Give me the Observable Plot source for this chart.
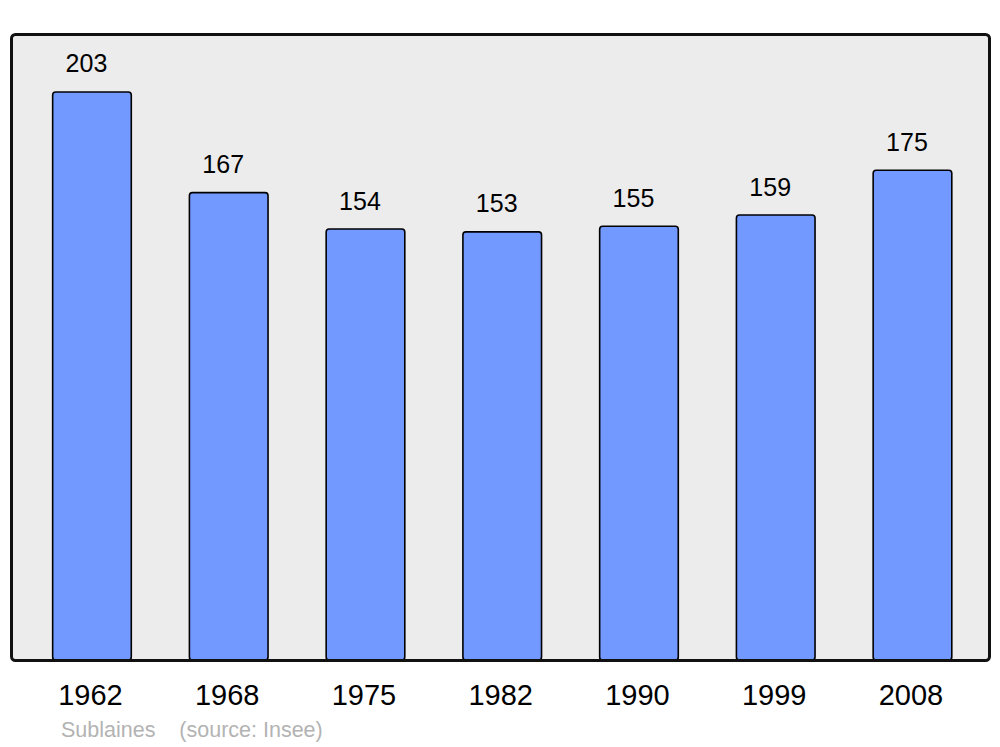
<!DOCTYPE html>
<html>
<head>
<meta charset="utf-8">
<script src="https://cdn.jsdelivr.net/npm/d3@7"></script>
<script src="https://cdn.jsdelivr.net/npm/@observablehq/plot@0.6"></script>
<style>
  html, body { margin: 0; padding: 0; background: #fff; }
  #wrap { position: relative; width: 1000px; height: 747px; font-family: "Liberation Sans", Arial, sans-serif; }
  #caption { position: absolute; left: 61px; top: 718px; font-size: 21.5px; color: #b3b3b3; white-space: pre; }
</style>
</head>
<body>
<div id="wrap">
  <div id="chart"></div>
  <div id="caption"></div>
</div>
<script>
const years = ["1962", "1968", "1975", "1982", "1990", "1999", "2008"];
const population = [203, 167, 154, 153, 155, 159, 175];
const commune = "Sublaines";
const source = "(source: Insee)";

const data = years.map((y, i) => ({year: y, value: population[i]}));

const chart = Plot.plot({
  width: 1000,
  height: 747,
  marginTop: 34,
  marginBottom: 87,
  marginLeft: 11,
  marginRight: 11,
  style: {fontFamily: "Liberation Sans, Arial, sans-serif", background: "transparent"},
  x: {domain: years, range: [23.6, 980.85], paddingInner: 0.425, paddingOuter: 0.2125, round: false, label: null},
  y: {domain: [0, 223.7], axis: null},
  marks: [
    Plot.frame({fill: "#ececec", stroke: "none", rx: 4}),
    Plot.barY(data, {x: "year", y: "value", fill: "#7299ff", stroke: "#000", strokeWidth: 1.6, rx: 3}),
    Plot.text(data, {x: "year", y: "value", text: d => String(d.value), dy: -28, dx: -6, fontSize: 25, fill: "#000"}),
    Plot.axisX({tickSize: 0, tickPadding: 24, dx: -2, fontSize: 29, color: "#000", label: null}),
    Plot.frame({fill: "none", stroke: "#111", strokeWidth: 3, rx: 4})
  ]
});
document.getElementById("chart").appendChild(chart);
document.getElementById("caption").textContent = commune + "    " + source;
</script>
</body>
</html>
